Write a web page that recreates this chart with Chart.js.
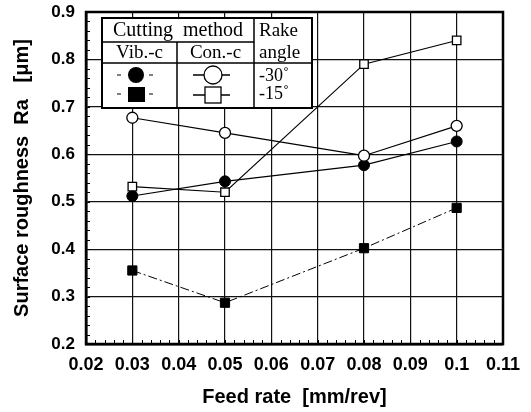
<!DOCTYPE html>
<html>
<head>
<meta charset="utf-8">
<script src="https://cdn.jsdelivr.net/npm/chart.js@4/dist/chart.umd.min.js"></script>
<style>
html,body{margin:0;padding:0;background:#fff;}
#wrap{position:relative;width:531px;height:412px;}
</style>
</head>
<body>
<div id="wrap"><canvas id="c"></canvas></div>
<script>
// ---- data ----
const feedRates = [0.03, 0.05, 0.08, 0.1];
const conM30 = [0.677, 0.645, 0.597, 0.660];   // Con.-c, -30°
const conM15 = [0.532, 0.520, 0.790, 0.840];   // Con.-c, -15°
const vibM30 = [0.512, 0.543, 0.577, 0.627];   // Vib.-c, -30°
const vibM15 = [0.355, 0.287, 0.402, 0.487];   // Vib.-c, -15°
const xTickValues = [0.02,0.03,0.04,0.05,0.06,0.07,0.08,0.09,0.1,0.11];
const xTickLabels = ["0.02","0.03","0.04","0.05","0.06","0.07","0.08","0.09","0.1","0.11"];
const yTickValues = [0.2,0.3,0.4,0.5,0.6,0.7,0.8,0.9];
const yTickLabels = ["0.2","0.3","0.4","0.5","0.6","0.7","0.8","0.9"];
const xTitle = "Feed rate  [mm/rev]";
const yTitle = "Surface roughness  Ra   [\u03bcm]";
const legendHeader = "Cutting  method";
const legendVib = "Vib.-c";
const legendCon = "Con.-c";
const legendRake = ["Rake", "angle"];
const legendAngles = ["-30\u02da", "-15\u02da"];

const pts = arr => feedRates.map((x,i)=>({x:x, y:arr[i]}));

const framePlugin = {
  id:'frame',
  afterDraw(chart){
    const {ctx, chartArea:a, scales:{x,y}} = chart;
    ctx.save();
    // minor ticks
    ctx.strokeStyle='#000'; ctx.lineWidth=1;
    ctx.beginPath();
    for(let k=0;k<=45;k++){
      const v = 0.02 + k*0.002;
      const px = Math.round(x.getPixelForValue(v))+0.5;
      ctx.moveTo(px, a.bottom); ctx.lineTo(px, a.bottom-4);
    }
    for(let k=0;k<=35;k++){
      const v = 0.2 + k*0.02;
      const py = Math.round(y.getPixelForValue(v))+0.5;
      ctx.moveTo(a.left, py); ctx.lineTo(a.left+4, py);
    }
    ctx.stroke();
    // frame
    ctx.lineWidth=2.5;
    ctx.strokeRect(a.left, a.top, a.right-a.left, a.bottom-a.top);

    // legend table
    const L=102, T=18, R=312, B=108, c1=177, c2=254, r1=42, r2=63;
    ctx.fillStyle='#fff';
    ctx.fillRect(L,T,R-L,B-T);
    ctx.strokeStyle='#000'; ctx.lineWidth=2;
    ctx.strokeRect(L,T,R-L,B-T);
    ctx.lineWidth=1.5;
    ctx.beginPath();
    ctx.moveTo(L,r1); ctx.lineTo(c2,r1);
    ctx.moveTo(L,r2); ctx.lineTo(R,r2);
    ctx.moveTo(c1,r1); ctx.lineTo(c1,B);
    ctx.moveTo(c2,T); ctx.lineTo(c2,B);
    ctx.stroke();
    ctx.fillStyle='#000';
    ctx.textBaseline='middle';
    ctx.font='20px "Liberation Serif", "Times New Roman", serif';
    ctx.textAlign='center';
    ctx.fillText(legendHeader, (L+c2)/2, 31);
    ctx.font='19px "Liberation Serif", "Times New Roman", serif';
    ctx.fillText(legendVib, (L+c1)/2, 53);
    ctx.fillText(legendCon, (c1+c2)/2, 53);
    ctx.textAlign='left';
    ctx.fillText(legendRake[0], 259, 31);
    ctx.fillText(legendRake[1], 259, 53);
    ctx.font='18px "Liberation Serif", "Times New Roman", serif';
    ctx.fillText(legendAngles[0], 259, 76);
    ctx.fillText(legendAngles[1], 259, 94);
    // legend markers
    ctx.lineWidth=1;
    ctx.setLineDash([4,3]);
    ctx.beginPath();
    ctx.moveTo(117,75); ctx.lineTo(124,75); ctx.moveTo(149,75); ctx.lineTo(156,75);
    ctx.moveTo(117,94); ctx.lineTo(124,94); ctx.moveTo(149,94); ctx.lineTo(156,94);
    ctx.stroke();
    ctx.setLineDash([]);
    ctx.beginPath(); ctx.arc(136,75,8,0,Math.PI*2); ctx.fill();
    ctx.fillRect(128,87,17,15);
    ctx.lineWidth=1.3;
    ctx.beginPath();
    ctx.moveTo(193,75); ctx.lineTo(230,75);
    ctx.moveTo(193,95); ctx.lineTo(230,95);
    ctx.stroke();
    ctx.fillStyle='#fff';
    ctx.beginPath(); ctx.arc(213,75,9,0,Math.PI*2); ctx.fill(); ctx.stroke();
    ctx.fillRect(205,87,16,16); ctx.strokeRect(205,87,16,16);
    ctx.restore();
  }
};

const sans = '"Liberation Sans", Arial, sans-serif';

new Chart(document.getElementById('c'), {
  type:'scatter',
  data:{
    datasets:[
      {label:'Con.-c -30', data:pts(conM30), showLine:true, borderColor:'#000', borderWidth:1.2,
       pointStyle:'circle', pointRadius:5.5, pointBackgroundColor:'#fff', pointBorderColor:'#000', pointBorderWidth:1.3},
      {label:'Con.-c -15', data:pts(conM15), showLine:true, borderColor:'#000', borderWidth:1.2,
       pointStyle:'rect', pointRadius:6, pointBackgroundColor:'#fff', pointBorderColor:'#000', pointBorderWidth:1.3},
      {label:'Vib.-c -30', data:pts(vibM30), showLine:true, borderColor:'#000', borderWidth:1.2,
       pointStyle:'circle', pointRadius:5.5, pointBackgroundColor:'#000', pointBorderColor:'#000', pointBorderWidth:1},
      {label:'Vib.-c -15', data:pts(vibM15), showLine:true, borderColor:'#000', borderWidth:1, borderDash:[9,3,2,3],
       pointStyle:'rect', pointRadius:6.5, pointBackgroundColor:'#000', pointBorderColor:'#000', pointBorderWidth:1}
    ]
  },
  options:{
    responsive:true, maintainAspectRatio:false, animation:false,
    layout:{padding:{left:0,right:28,top:12,bottom:0}},
    plugins:{legend:{display:false}, tooltip:{enabled:false}},
    scales:{
      x:{type:'linear', min:0.02, max:0.11,
         afterBuildTicks(s){ s.ticks = xTickValues.map(v=>({value:v})); },
         afterFit(s){ s.height = 68; },
         ticks:{color:'#000', font:{family:sans, size:18, weight:'bold'}, padding:10, maxRotation:0, autoSkip:false,
                callback:(v,i)=>xTickLabels[i]},
         grid:{color:'#111', lineWidth:1.2, drawTicks:false},
         border:{display:true, color:'#000', width:2.5},
         title:{display:true, text:xTitle, color:'#000', padding:{top:0,bottom:3},
                font:{family:sans, size:20, weight:'bold'}}
      },
      y:{type:'linear', min:0.2, max:0.9,
         afterBuildTicks(s){ s.ticks = yTickValues.map(v=>({value:v})); },
         afterFit(s){ s.width = 86; s.paddingTop = 0; s.paddingBottom = 0; },
         ticks:{color:'#000', font:{family:sans, size:17, weight:'bold'}, padding:11, autoSkip:false,
                callback:(v,i)=>yTickLabels[i]},
         grid:{color:'#111', lineWidth:1.2, drawTicks:false},
         border:{display:true, color:'#000', width:2.5},
         title:{display:true, text:yTitle, color:'#000', padding:{top:10,bottom:0},
                font:{family:sans, size:20, weight:'bold'}}
      }
    }
  },
  plugins:[framePlugin]
});
</script>
</body>
</html>
